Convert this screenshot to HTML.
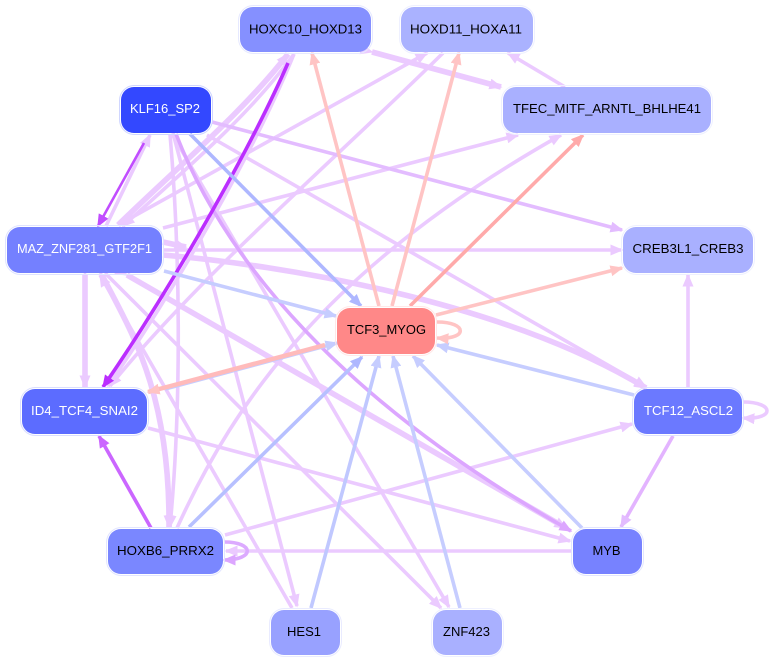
<!DOCTYPE html>
<html><head><meta charset="utf-8"><style>
html,body{margin:0;padding:0;background:#fff;width:772px;height:662px;overflow:hidden}
svg{display:block}
path{fill:none;stroke-width:3.6}
text{font-family:"Liberation Sans",sans-serif;font-size:12.5px;text-anchor:middle}
.p path{stroke:#ebcaff}
.p path.t{stroke-width:5.6}
.n rect.o{fill:none;stroke-width:1}
</style></head><body>
<svg width="772" height="662" viewBox="0 0 772 662" xmlns="http://www.w3.org/2000/svg">
<defs>
<marker id="mp" markerUnits="userSpaceOnUse" markerWidth="14" markerHeight="12" refX="11.5" refY="5.500" orient="auto"><polygon points="0,0 13,5.500 0,11" fill="#ebcaff"/></marker>
<marker id="md" markerUnits="userSpaceOnUse" markerWidth="14" markerHeight="12" refX="11.5" refY="5.500" orient="auto"><polygon points="0,0 13,5.500 0,11" fill="#e3bcff"/></marker>
<marker id="mm" markerUnits="userSpaceOnUse" markerWidth="14" markerHeight="12" refX="11.5" refY="5.500" orient="auto"><polygon points="0,0 13,5.500 0,11" fill="#dca6ff"/></marker>
<marker id="mv" markerUnits="userSpaceOnUse" markerWidth="14" markerHeight="12" refX="11.5" refY="5.500" orient="auto"><polygon points="0,0 13,5.500 0,11" fill="#cb66ff"/></marker>
<marker id="mk" markerUnits="userSpaceOnUse" markerWidth="14" markerHeight="12" refX="11.5" refY="5.500" orient="auto"><polygon points="0,0 13,5.500 0,11" fill="#c14dff"/></marker>
<marker id="mx" markerUnits="userSpaceOnUse" markerWidth="14" markerHeight="12" refX="11.5" refY="5.500" orient="auto"><polygon points="0,0 13,5.500 0,11" fill="#bb2eff"/></marker>
<marker id="mb" markerUnits="userSpaceOnUse" markerWidth="14" markerHeight="12" refX="11.5" refY="5.500" orient="auto"><polygon points="0,0 13,5.500 0,11" fill="#c6cdff"/></marker>
<marker id="mB" markerUnits="userSpaceOnUse" markerWidth="14" markerHeight="12" refX="11.5" refY="5.500" orient="auto"><polygon points="0,0 13,5.500 0,11" fill="#aeb7ff"/></marker>
<marker id="mr" markerUnits="userSpaceOnUse" markerWidth="14" markerHeight="12" refX="11.5" refY="5.500" orient="auto"><polygon points="0,0 13,5.500 0,11" fill="#ffc4c4"/></marker>
<marker id="mR" markerUnits="userSpaceOnUse" markerWidth="14" markerHeight="12" refX="11.5" refY="5.500" orient="auto"><polygon points="0,0 13,5.500 0,11" fill="#ffaaaa"/></marker>
</defs>

<g class="p">
<path class="t" d="M372 52L501 87" marker-end="url(#mp)" marker-start="url(#mp)"/>
<path d="M565 87L508 53" marker-end="url(#mp)"/>
<path d="M207 135L646 387" marker-end="url(#mp)"/>
<path d="M173 133L297 606" marker-end="url(#mp)"/>
<path d="M172 134L449 607" marker-end="url(#mp)"/>
<path d="M105 273L441 608" marker-end="url(#mp)"/>
<path d="M292 608L100 275" marker-end="url(#mp)"/>
<path class="t" d="M85 275L85 387" marker-end="url(#mp)" marker-start="url(#mp)"/>
<path d="M443 53C340 155 200 275 110 386" marker-end="url(#mp)"/>
<path d="M177 528C235 400 330 265 561 135" marker-end="url(#mp)"/>
<path d="M120 224L427 53" marker-end="url(#mp)"/>
<path d="M163 228L518 135" marker-end="url(#mp)"/>
<path d="M163 250L622 250" marker-end="url(#mp)"/>
<path class="t" d="M163 255C280 265 500 300 646 388" marker-end="url(#mp)"/>
<path class="t" d="M163 242L186 247" marker-end="url(#mp)"/>
<path class="t" d="M127 275L566 528" marker-end="url(#mp)" marker-start="url(#mp)"/>
<path d="M688 387L688 275" marker-end="url(#mp)"/>
<path d="M225 535L632 424" marker-end="url(#mp)"/>
<path d="M572 551L226 551" marker-end="url(#mp)"/>
<path d="M148 428L570 541" marker-end="url(#mp)"/>
<path class="t" d="M118 225C180 165 245 110 288 54" marker-end="url(#mp)"/>
<path d="M294 54C250 115 185 170 123 226" marker-end="url(#mp)"/>
<path d="M294 54C255 150 175 290 108 386" marker-end="url(#mp)"/>
<path class="t" d="M102 275C130 330 170 390 169 527" marker-end="url(#mp)" marker-start="url(#mp)"/>
<path d="M170 134C180 250 182 400 170 527" marker-end="url(#mp)"/>
<path d="M106 226L150 135" marker-end="url(#mp)"/>
</g>

<path d="M212 122L622 230" style="stroke:#e3bcff" marker-end="url(#md)"/>
<path d="M176 134C225 260 340 400 571 531" style="stroke:#dca6ff" marker-end="url(#mm)"/>
<path d="M673 436L621 527" style="stroke:#e3b4ff" marker-end="url(#md)"/>
<path d="M151 528L99 436" style="stroke:#cb66ff" marker-end="url(#mv)"/>
<path d="M144 143L98 226" style="stroke:#c14dff;stroke-width:2.6" marker-end="url(#mk)"/>
<path d="M288 63C250 150 170 290 103 387" style="stroke:#bb2eff;stroke-width:3.6" marker-end="url(#mx)"/>

<path d="M190 134L361 306" style="stroke:#aeb7ff" marker-end="url(#mB)"/>
<path d="M164 271L336 316" style="stroke:#c6cdff" marker-end="url(#mb)"/>
<path d="M165 389L337 343" style="stroke:#c6cdff" marker-end="url(#mb)"/>
<path d="M634 395L437 345" style="stroke:#c6cdff" marker-end="url(#mb)"/>
<path d="M582 528L413 356" style="stroke:#c6cdff" marker-end="url(#mb)"/>
<path d="M460 608L393 356" style="stroke:#c6cdff" marker-end="url(#mb)"/>
<path d="M311 608L379 356" style="stroke:#c0c8ff" marker-end="url(#mb)"/>
<path d="M189 527L362 357" style="stroke:#b7c0ff" marker-end="url(#mB)"/>

<path d="M325 345L148 392" style="stroke:#ffbbbb;stroke-width:4.4" marker-end="url(#mr)"/>
<path d="M379 306L312 53" style="stroke:#ffc4c4" marker-end="url(#mr)"/>
<path d="M392 306L459 53" style="stroke:#ffc4c4" marker-end="url(#mr)"/>
<path d="M410 306L583 135" style="stroke:#ffaaaa" marker-end="url(#mR)"/>
<path d="M436 315L622 268" style="stroke:#ffc4c4" marker-end="url(#mr)"/>
<path d="M437 322C468 322 468 340 437 338" style="stroke:#ffc4c4" marker-end="url(#mr)"/>
<path d="M743 402C775 402 775 420 743 418" style="stroke:#ebcaff" marker-end="url(#mp)"/>
<path d="M224 542C255 542 255 560 224 560" style="stroke:#dcaaff" marker-end="url(#mm)"/>

<g class="n">
<rect class="o" x="238.500" y="5.500" width="134" height="48" rx="15" stroke="#e6e9ff"/><rect x="240" y="7" width="131" height="45" rx="13" fill="#8590ff"/>
<text x="305.500" y="33.500" textLength="113" lengthAdjust="spacingAndGlyphs" fill="#000">HOXC10_HOXD13</text>
<rect class="o" x="399.500" y="5.500" width="135" height="48" rx="15" stroke="#eef0ff"/><rect x="401" y="7" width="132" height="45" rx="13" fill="#aab2ff"/>
<text x="466" y="33.500" textLength="112" lengthAdjust="spacingAndGlyphs" fill="#000">HOXD11_HOXA11</text>
<rect class="o" x="119.500" y="85.500" width="93" height="49" rx="15" stroke="#d0d6ff"/><rect x="121" y="87" width="90" height="46" rx="13" fill="#3348ff"/>
<text x="165" y="113" textLength="70" lengthAdjust="spacingAndGlyphs" fill="#fff">KLF16_SP2</text>
<rect class="o" x="501.500" y="85.500" width="211" height="49" rx="15" stroke="#eef0ff"/><rect x="503" y="87" width="208" height="46" rx="13" fill="#a9b0ff"/>
<text x="607" y="113" textLength="188" lengthAdjust="spacingAndGlyphs" fill="#000">TFEC_MITF_ARNTL_BHLHE41</text>
<rect class="o" x="5.500" y="225.500" width="158" height="49" rx="15" stroke="#dfe3ff"/><rect x="7" y="227" width="155" height="46" rx="13" fill="#7480ff"/>
<text x="84.500" y="253" textLength="135" lengthAdjust="spacingAndGlyphs" fill="#fff">MAZ_ZNF281_GTF2F1</text>
<rect class="o" x="621.500" y="225.500" width="133" height="49" rx="15" stroke="#eef0ff"/><rect x="623" y="227" width="130" height="46" rx="13" fill="#a9b0ff"/>
<text x="688" y="253" textLength="111" lengthAdjust="spacingAndGlyphs" fill="#000">CREB3L1_CREB3</text>
<rect class="o" x="335.500" y="306.500" width="101" height="49" rx="15" stroke="#ffe8e8"/><rect x="337" y="308" width="98" height="46" rx="13" fill="#ff8888"/>
<text x="386.500" y="334" textLength="79" lengthAdjust="spacingAndGlyphs" fill="#000">TCF3_MYOG</text>
<rect class="o" x="20.500" y="387.500" width="128" height="48" rx="15" stroke="#dadeff"/><rect x="22" y="389" width="125" height="45" rx="13" fill="#5c6cff"/>
<text x="84.500" y="415" textLength="107" lengthAdjust="spacingAndGlyphs" fill="#fff">ID4_TCF4_SNAI2</text>
<rect class="o" x="632.500" y="387.500" width="111" height="48" rx="15" stroke="#dee1ff"/><rect x="634" y="389" width="108" height="45" rx="13" fill="#6b79ff"/>
<text x="688.500" y="415" textLength="89" lengthAdjust="spacingAndGlyphs" fill="#fff">TCF12_ASCL2</text>
<rect class="o" x="106.500" y="527.500" width="118" height="48" rx="15" stroke="#e2e5ff"/><rect x="108" y="529" width="115" height="45" rx="13" fill="#7a87ff"/>
<text x="165.500" y="555" textLength="97" lengthAdjust="spacingAndGlyphs" fill="#000">HOXB6_PRRX2</text>
<rect class="o" x="571.500" y="527.500" width="72" height="48" rx="15" stroke="#e2e5ff"/><rect x="573" y="529" width="69" height="45" rx="13" fill="#7782ff"/>
<text x="606.500" y="555" textLength="28" lengthAdjust="spacingAndGlyphs" fill="#000">MYB</text>
<rect class="o" x="269.500" y="608.500" width="72" height="48" rx="15" stroke="#e9ebff"/><rect x="271" y="610" width="69" height="45" rx="13" fill="#98a1ff"/>
<text x="304" y="636" textLength="34" lengthAdjust="spacingAndGlyphs" fill="#000">HES1</text>
<rect class="o" x="431.500" y="608.500" width="72" height="48" rx="15" stroke="#eef0ff"/><rect x="433" y="610" width="69" height="45" rx="13" fill="#a9b0ff"/>
<text x="466.500" y="636" textLength="47" lengthAdjust="spacingAndGlyphs" fill="#000">ZNF423</text>
</g>
</svg>
</body></html>
